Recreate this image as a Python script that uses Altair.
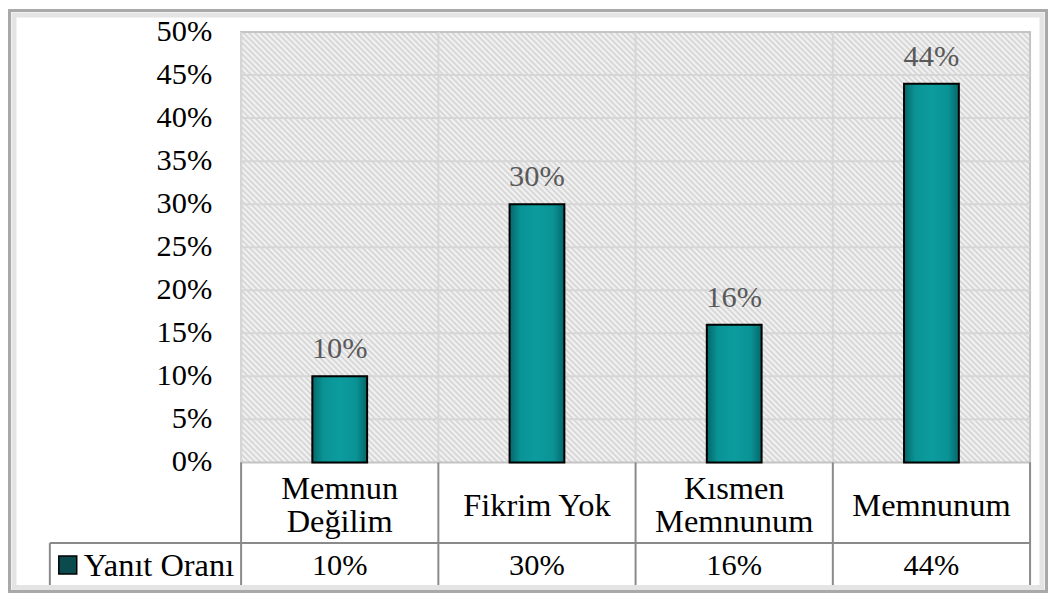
import altair as alt
import pandas as pd

# ---- data ----
categories = ["Memnun Değilim", "Fikrim Yok", "Kısmen Memnunum", "Memnunum"]
values = [0.10, 0.30, 0.16, 0.44]
series_name = "Yanıt Oranı"
y_ticks = [0, 0.05, 0.10, 0.15, 0.20, 0.25, 0.30, 0.35, 0.40, 0.45, 0.50]
grid_levels = [0.05, 0.10, 0.15, 0.20, 0.25, 0.30, 0.35, 0.40, 0.45]

# ---- layout / style ----
W, H = 792, 432
ROW1, ROW2 = 81, 44
LEFT_CELL = -192
FONT = "Liberation Serif"
FS = 30.5    # percentages
FSW = 32.5   # words
LH = 33
TABLE_LINE = "#8a8a8a"
GRID = "#d6d6d6"

df = pd.DataFrame({"cat": categories, "val": values})
gdf = pd.DataFrame({"lvl": grid_levels})
tdf = pd.DataFrame({"tick": y_ticks})
one = pd.DataFrame({"k": [0]})
leg = pd.DataFrame({"name": [series_name]})

# hatch pattern as a soft striped linear gradient (45 degree stripes)
N = 216
stripe, bg = "#d2d2d2", "#f7f7f7"
stops = []
for k in range(N):
    stops += [
        {"offset": round(k / N, 6), "color": bg},
        {"offset": round((k + 0.5) / N, 6), "color": stripe},
    ]
stops.append({"offset": 1, "color": bg})
r = H / W
vv = 1 + r * r
hatch = {
    "gradient": "linear",
    "x1": round(-r / vv, 5), "y1": round(r * r / vv, 5),
    "x2": round(1 / vv, 5), "y2": round(-r / vv, 5),
    "stops": stops,
}

bar_fill = {
    "gradient": "linear", "x1": 0, "y1": 0, "x2": 1, "y2": 0,
    "stops": [
        {"offset": 0, "color": "#05676a"},
        {"offset": 0.2, "color": "#0a9395"},
        {"offset": 0.5, "color": "#0c9c9e"},
        {"offset": 0.8, "color": "#0a9395"},
        {"offset": 1, "color": "#05676a"},
    ],
}

xscale = alt.Scale(paddingInner=0, paddingOuter=0)
yscale = alt.Scale(domain=[0, 0.5], nice=False, zero=True)

X_noaxis = alt.X("cat:N", sort=categories, scale=xscale, axis=None)
X_edge = alt.X("cat:N", sort=categories, scale=xscale, axis=None, bandPosition=0)

# plot-area background (hatched)
back = alt.Chart(one).mark_rect(fill=hatch, stroke="#c4c4c4", strokeWidth=2).encode(
    x=alt.value(0), x2=alt.value(W), y=alt.value(0), y2=alt.value(H)
)

vgrid = alt.Chart(df).mark_rule(color=GRID, strokeWidth=2).encode(
    x=X_edge, y=alt.value(0), y2=alt.value(H),
)
hgrid = alt.Chart(gdf).mark_rule(color=GRID, strokeWidth=2).encode(
    y=alt.Y("lvl:Q", scale=yscale, axis=None), x=alt.value(0), x2=alt.value(W)
)

# y-axis tick labels
y_labels = alt.Chart(tdf).mark_text(
    font=FONT, fontSize=FS, color="black", baseline="middle", align="right"
).encode(
    y=alt.Y("tick:Q", scale=yscale, axis=None), x=alt.value(-29),
    text=alt.Text("tick:Q", format=".0%"),
)

bars = alt.Chart(df).mark_bar(size=55, fill=bar_fill, stroke="black", strokeWidth=2).encode(
    x=X_noaxis, y=alt.Y("val:Q", scale=yscale, axis=None)
)

bar_labels = alt.Chart(df).mark_text(
    font=FONT, fontSize=FS, color="#595959", baseline="middle", dy=-27
).encode(
    x=X_noaxis, y=alt.Y("val:Q", scale=yscale, axis=None),
    text=alt.Text("val:Q", format=".0%"),
)

# data table: category row (long names wrap onto two lines, block centred)
cat_single = alt.Chart(df).transform_filter(
    "length(datum.cat) <= 10"
).mark_text(
    font=FONT, fontSize=FSW, color="black", baseline="middle",
).encode(
    x=X_noaxis, y=alt.value(H + ROW1 / 2 + 3), text="cat:N",
)
cat_multi = alt.Chart(df).transform_filter(
    "length(datum.cat) > 10"
).transform_calculate(
    lbl="replace(datum.cat, ' ', '\\n')"
).mark_text(
    font=FONT, fontSize=FSW, color="black", baseline="middle", lineBreak="\n",
    lineHeight=LH, dy=-LH / 2,
).encode(
    x=X_noaxis, y=alt.value(H + ROW1 / 2 + 3), text="lbl:N",
)

col_lines = alt.Chart(df).mark_rule(color=TABLE_LINE, strokeWidth=2).encode(
    x=X_edge, y=alt.value(H), y2=alt.value(H + ROW1 + ROW2),
)
right_line = alt.Chart(one).mark_rule(color=TABLE_LINE, strokeWidth=2).encode(
    x=alt.value(W), y=alt.value(H), y2=alt.value(H + ROW1 + ROW2)
)
left_line = alt.Chart(one).mark_rule(color=TABLE_LINE, strokeWidth=2).encode(
    x=alt.value(LEFT_CELL), y=alt.value(H + ROW1), y2=alt.value(H + ROW1 + ROW2)
)
mid_line = alt.Chart(one).mark_rule(color=TABLE_LINE, strokeWidth=2).encode(
    x=alt.value(LEFT_CELL), x2=alt.value(W), y=alt.value(H + ROW1)
)
bot_line = alt.Chart(one).mark_rule(color=TABLE_LINE, strokeWidth=2).encode(
    x=alt.value(LEFT_CELL), x2=alt.value(W), y=alt.value(H + ROW1 + ROW2)
)

value_row = alt.Chart(df).mark_text(
    font=FONT, fontSize=FS, color="black", baseline="middle"
).encode(
    x=X_noaxis, y=alt.value(H + ROW1 + ROW2 / 2 + 1),
    text=alt.Text("val:Q", format=".0%"),
)

leg_key = alt.Chart(one).mark_rect(fill="#0b4b4d", stroke="black", strokeWidth=1.5).encode(
    x=alt.value(-183), x2=alt.value(-165),
    y=alt.value(H + ROW1 + 13), y2=alt.value(H + ROW1 + 31),
)
leg_text = alt.Chart(leg).mark_text(
    font=FONT, fontSize=FSW, color="black", baseline="middle", align="left"
).encode(
    x=alt.value(-158), y=alt.value(H + ROW1 + ROW2 / 2 + 1), text="name:N"
)

# outer chart frame
frame_outer = alt.Chart(one).mark_rect(fillOpacity=0, stroke="#a9a9a9", strokeWidth=3).encode(
    x=alt.value(-232.5), x2=alt.value(808.5), y=alt.value(-21.5), y2=alt.value(H + 129.5)
)
frame_inner = alt.Chart(one).mark_rect(fillOpacity=0, stroke="#e4e4e4", strokeWidth=5).encode(
    x=alt.value(-228), x2=alt.value(804), y=alt.value(-17), y2=alt.value(H + 125.5)
)

chart = alt.layer(
    back, vgrid, hgrid, y_labels, bars, bar_labels,
    cat_single, cat_multi, col_lines, right_line, left_line, mid_line, bot_line,
    value_row, leg_key, leg_text, frame_inner, frame_outer,
).properties(
    width=W, height=H,
    autosize=alt.AutoSizeParams(type="none"),
    padding={"left": 234, "top": 23, "right": 18, "bottom": 131},
    background="white",
).configure_view(stroke=None)

chart.save("out.html", embed_options={"renderer": "svg", "actions": False})
